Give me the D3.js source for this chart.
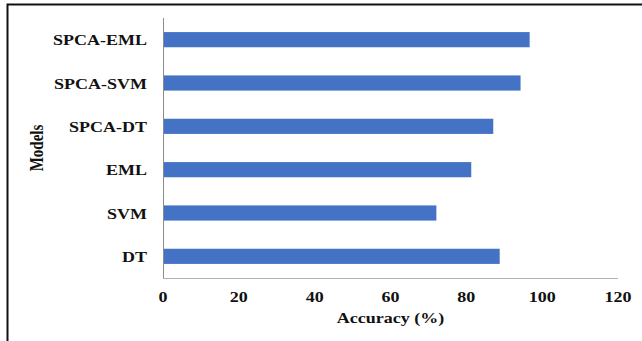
<!DOCTYPE html>
<html>
<head>
<meta charset="utf-8">
<script src="https://cdn.jsdelivr.net/npm/d3@7"></script>
<style>
  html, body { margin: 0; padding: 0; background: #fff; }
  svg { display: block; }
  text { font-family: "Liberation Serif", "Times New Roman", serif; font-weight: bold; fill: #111; }
</style>
</head>
<body>
<script>
// Model accuracies (%)
const models = ["SPCA-EML", "SPCA-SVM", "SPCA-DT", "EML", "SVM", "DT"];
const accuracy = [96.7, 94.3, 87.1, 81.3, 72.1, 88.8];
const xTicks = [0, 20, 40, 60, 80, 100, 120];
const xTitle = "Accuracy (%)";
const yTitle = "Models";

const W = 642, H = 341;
const plot = { left: 163, right: 618, top: 18, bottom: 278 };
const stretch = 1.2;   // glyphs are drawn a little wider than tall
const fontSize = 15;

const svg = d3.select("body").append("svg")
  .attr("width", W).attr("height", H);

// frame (top and left edges)
svg.append("path")
  .attr("d", `M7.5,${H} V4.5 H${W}`)
  .attr("fill", "none").attr("stroke", "#111").attr("stroke-width", 2);

const x = d3.scaleLinear().domain([0, 120]).range([plot.left, plot.right]);
const y = d3.scaleBand().domain(models).range([plot.top, plot.bottom]).paddingInner(0.65).paddingOuter(0.325);

// bars
svg.append("g").selectAll("rect")
  .data(models)
  .join("rect")
  .attr("x", x(0))
  .attr("y", d => y(d))
  .attr("width", (d, i) => x(accuracy[i]) - x(0))
  .attr("height", y.bandwidth())
  .attr("fill", "#4472C4");

// axis lines
svg.append("line")
  .attr("x1", plot.left + 0.5).attr("x2", plot.left + 0.5)
  .attr("y1", plot.top).attr("y2", plot.bottom)
  .attr("stroke", "#8c8c8c").attr("stroke-width", 1);
svg.append("line")
  .attr("x1", plot.left).attr("x2", plot.right)
  .attr("y1", plot.bottom + 0.5).attr("y2", plot.bottom + 0.5)
  .attr("stroke", "#b0b0b0").attr("stroke-width", 1.2);

// stretched label helper
function label(g, px, py, str, anchor) {
  g.append("g")
    .attr("transform", `translate(${px},${py}) scale(${stretch},1)`)
    .append("text")
    .attr("text-anchor", anchor)
    .attr("font-size", fontSize)
    .text(str);
}

// category labels
const yLab = svg.append("g");
models.forEach(m => label(yLab, 147, y(m) + y.bandwidth() / 2 + 5.5, m, "end"));

// x tick labels
const xLab = svg.append("g");
xTicks.forEach(t => label(xLab, x(t), 302, d3.format("d")(t), "middle"));

// axis titles
label(svg, (plot.left + plot.right) / 2, 323, xTitle, "middle");

svg.append("g")
  .attr("transform", `translate(43,${(plot.top + plot.bottom) / 2}) scale(${stretch},1) rotate(-90)`)
  .append("text")
  .attr("text-anchor", "middle")
  .attr("font-size", fontSize)
  .text(yTitle);
</script>
</body>
</html>
